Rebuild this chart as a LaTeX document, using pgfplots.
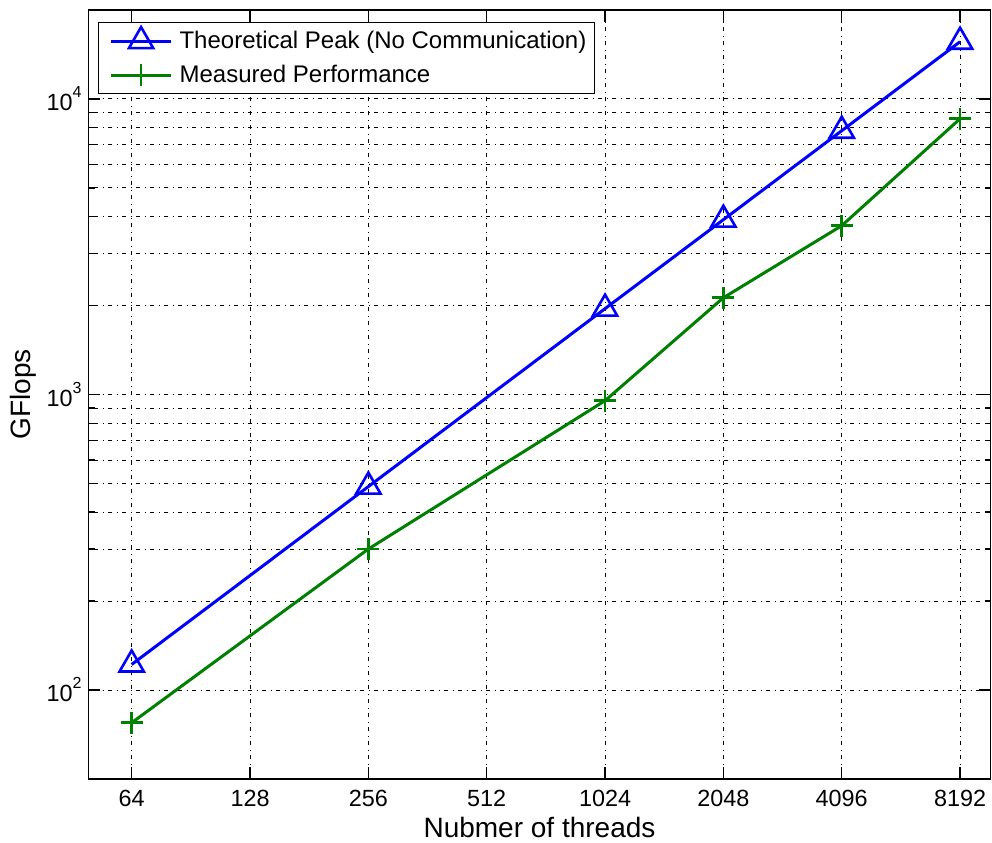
\documentclass[border=0pt]{standalone}
\usepackage{fontspec}
\setmainfont{Liberation Sans}
\usepackage{pgfplots}
\pgfplotsset{compat=1.18}
\definecolor{mblue}{RGB}{0,0,255}
\definecolor{mgreen}{RGB}{0,128,0}
\newcommand\tenpow[1]{10\raisebox{1.05ex}{\fontsize{8}{8}\selectfont #1}}
\begin{document}
\begin{tikzpicture}
\begin{axis}[
  scale only axis, width=451pt, height=384.5pt,
  xmode=log, ymode=log, log basis x=2,
  xmin=49.7, xmax=9790, ymin=50, ymax=20000,
  xtick={64,128,256,512,1024,2048,4096,8192},
  xticklabels={64,128,256,512,1024,2048,4096,8192},
  ytick={100,1000,10000},
  yticklabels={\tenpow{2},\tenpow{3},\tenpow{4}},
  xminorticks=false,
  grid=both,
  major grid style={black, line width=0.45pt, dash pattern=on 0.6pt off 2.2pt on 2pt off 2.2pt},
  minor grid style={black, line width=0.45pt, dash pattern=on 0.6pt off 2.2pt on 2pt off 2.2pt},
  axis line style={line width=0.8pt},
  tick style={black, line width=0.6pt},
  tick align=inside, major tick length=6pt, minor tick length=3pt,
  tick label style={font=\fontsize{11.7}{13}\selectfont},
  xticklabel style={yshift=-2pt},
  xlabel={Nubmer of threads},
  ylabel={GFlops},
  every axis x label/.style={at={(axis description cs:0.5,0)}, anchor=center, yshift=-24.5pt,
    font=\fontsize{14}{16}\selectfont},
  every axis y label/.style={at={(axis description cs:0,0.5)}, xshift=-32.6pt, anchor=center, rotate=90,
    font=\fontsize{14}{16}\selectfont},
  legend style={at={(rel axis cs:0.0105,0.984)}, anchor=north west, draw=black, line width=0.6pt,
    font=\fontsize{12}{14}\selectfont, inner sep=2pt, row sep=3pt},
  legend cell align=left,
  legend image code/.code={\path (0pt,0pt) (35pt,0pt);
    \draw[mark repeat=2,mark phase=2] plot coordinates {(3.5pt,0pt) (18.5pt,0pt) (33.5pt,0pt)};},
]
\addplot[mblue, line width=1.5pt, mark=triangle, mark size=7pt, mark options={solid, line width=1.3pt}]
  coordinates {(64,122) (256,488) (1024,1952) (2048,3904) (4096,7808) (8192,15616)};
\addplot[mgreen, line width=1.5pt, mark=+, mark size=5.5pt, mark options={line width=1.3pt}]
  coordinates {(64,77.5) (256,300) (1024,953) (2048,2125) (4096,3726) (8192,8570)};
\legend{Theoretical Peak (No Communication), Measured Performance}
\end{axis}
\pgfresetboundingbox
\useasboundingbox ([xshift=-44.25pt,yshift=-32pt]current axis.south west) rectangle ([xshift=0.75pt,yshift=5pt]current axis.north east);
\end{tikzpicture}
\end{document}
